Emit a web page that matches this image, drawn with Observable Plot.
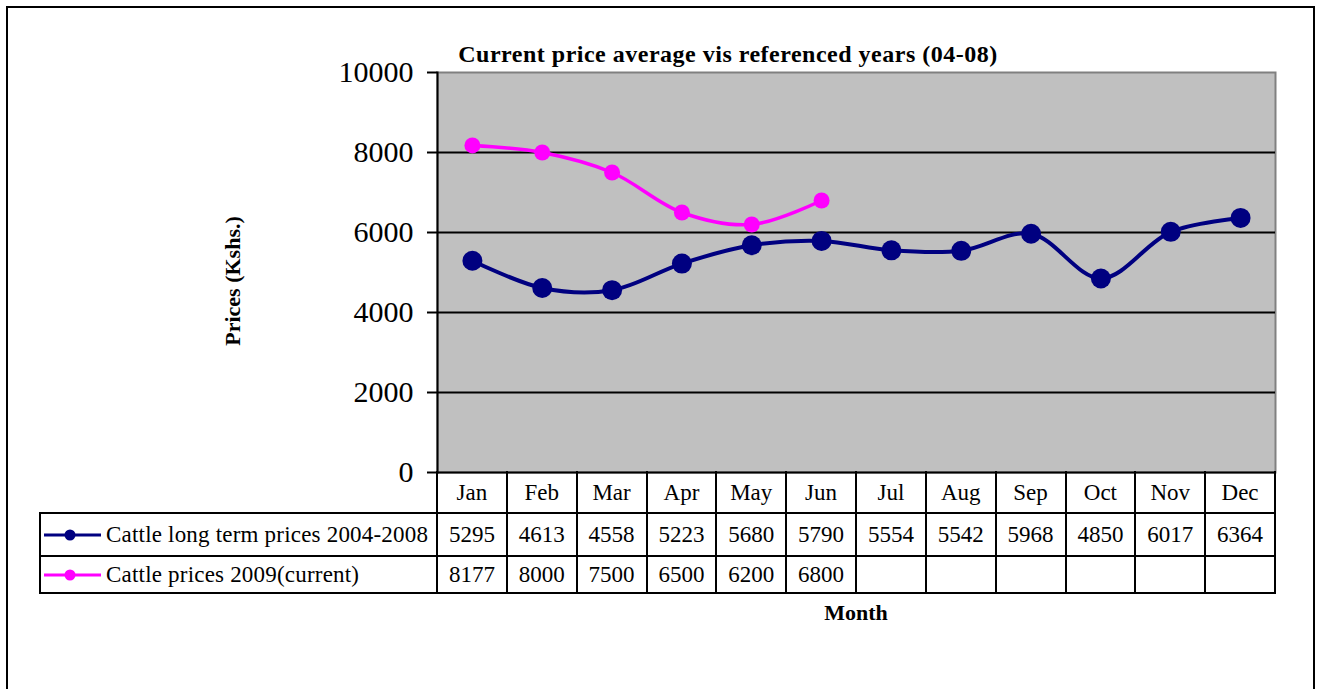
<!DOCTYPE html>
<html><head><meta charset="utf-8">
<script src="https://cdn.jsdelivr.net/npm/d3@7"></script>
<script src="https://cdn.jsdelivr.net/npm/@observablehq/plot@0.6"></script>
<style>
html,body{margin:0;padding:0;background:#fff;overflow:hidden}
#root{position:relative;width:1320px;height:689px;overflow:hidden;font-family:"Liberation Serif","Times New Roman",serif;color:#000}
.abs{position:absolute}
.cell{position:absolute;display:flex;align-items:center;justify-content:center;white-space:nowrap;font-size:23px}
</style></head><body><div id="root"></div>
<script>
const months = ["Jan","Feb","Mar","Apr","May","Jun","Jul","Aug","Sep","Oct","Nov","Dec"];
const longTermPrices = [5295,4613,4558,5223,5680,5790,5554,5542,5968,4850,6017,6364];
const currentPrices = [8177,8000,7500,6500,6200,6800];
const seriesNames = ["Cattle long term prices 2004-2008","Cattle prices 2009(current)"];
const seriesColors = ["#000080","#FF00FF"];
const yTicks = [0,2000,4000,6000,8000,10000];
const titleText = "Current price average vis referenced years (04-08)";
const yLabelText = "Prices (Kshs.)";
const xLabelText = "Month";

const longData = months.map((m,i)=>({month:m, price:longTermPrices[i]}));
const curData = currentPrices.map((p,i)=>({month:months[i], price:p}));

const root = d3.select("#root");

// outer border
root.append("div").attr("class","abs")
  .style("left","6px").style("top","6px").style("width","1305px").style("height","700px")
  .style("border","2px solid #000");

const chart = Plot.plot({
  width:1320, height:689,
  marginLeft:437, marginRight:45, marginTop:72, marginBottom:217,
  style:{fontFamily:'"Liberation Serif","Times New Roman",serif', background:"transparent", overflow:"visible", color:"#000"},
  x:{type:"point", domain:months, padding:0.5, round:false, axis:null},
  y:{domain:[0,10000], axis:null},
  marks:[
    Plot.frame({fill:"#c0c0c0", stroke:"#808080", strokeWidth:2}),
    Plot.ruleY(yTicks.filter(d=>d<10000), {stroke:"#000", strokeWidth:2}),
    Plot.axisY({ticks:yTicks, tickSize:10, tickPadding:14, fontSize:30, tickFormat:d=>String(d), label:null, strokeWidth:2}),
    Plot.frame({anchor:"left", stroke:"#000", strokeWidth:2}),
    Plot.line(longData,{x:"month", y:"price", stroke:seriesColors[0], strokeWidth:4, curve:"catmull-rom"}),
    Plot.dot(longData,{x:"month", y:"price", r:10, fill:seriesColors[0]}),
    Plot.line(curData,{x:"month", y:"price", stroke:seriesColors[1], strokeWidth:3.5, curve:"catmull-rom"}),
    Plot.dot(curData,{x:"month", y:"price", r:8, fill:seriesColors[1]})
  ]
});
chart.style.position = "absolute";
chart.style.left = "0px";
chart.style.top = "0px";
root.node().appendChild(chart);

// data table built from the x / y scales
const xs = chart.scale("x"), ys = chart.scale("y");
const step = xs.apply(months[1]) - xs.apply(months[0]);
const colLeft = xs.apply(months[0]) - step/2;
const colRight = colLeft + step*months.length;
const tableLeft = 40;
const yTop = ys.apply(0);
const rowBounds = [yTop, yTop+41, yTop+84, yTop+121];

function hLine(x1,x2,y){root.append("div").attr("class","abs").style("left",(x1-1)+"px").style("top",(y-1)+"px").style("width",(x2-x1+2)+"px").style("height","2px").style("background","#000");}
function vLine(x,y1,y2){root.append("div").attr("class","abs").style("left",(x-1)+"px").style("top",(y1-1)+"px").style("width","2px").style("height",(y2-y1+2)+"px").style("background","#000");}
function cell(x,y,w,h,txt){root.append("div").attr("class","cell").style("left",x+"px").style("top",y+"px").style("width",w+"px").style("height",h+"px").text(txt);}

for (let k=0;k<=months.length;k++) vLine(colLeft+k*step, rowBounds[0], rowBounds[3]);
vLine(tableLeft, rowBounds[1], rowBounds[3]);
hLine(tableLeft, colRight, rowBounds[1]);
hLine(tableLeft, colRight, rowBounds[2]);
hLine(tableLeft, colRight, rowBounds[3]);

months.forEach((m,i)=>cell(colLeft+i*step, rowBounds[0], step, rowBounds[1]-rowBounds[0], m));
longTermPrices.forEach((v,i)=>cell(colLeft+i*step, rowBounds[1], step, rowBounds[2]-rowBounds[1], String(v)));
currentPrices.forEach((v,i)=>cell(colLeft+i*step, rowBounds[2], step, rowBounds[3]-rowBounds[2], String(v)));

// legend cells
[0,1].forEach(s=>{
  const y0 = rowBounds[s+1], y1 = rowBounds[s+2], cy = (y0+y1)/2;
  const sw = root.append("svg").attr("class","abs").style("left",(tableLeft+3)+"px").style("top",(cy-8)+"px").attr("width",60).attr("height",16);
  sw.append("line").attr("x1",1).attr("x2",58).attr("y1",8).attr("y2",8).attr("stroke",seriesColors[s]).attr("stroke-width",3);
  sw.append("circle").attr("cx",27).attr("cy",8).attr("r",5.5).attr("fill",seriesColors[s]);
  root.append("div").attr("class","cell").style("justify-content","flex-start")
    .style("left",(tableLeft+66)+"px").style("top",y0+"px").style("height",(y1-y0)+"px")
    .style("letter-spacing","0.2px")
    .text(seriesNames[s]);
});

// titles
root.append("div").attr("class","abs").style("left","728px").style("top","54px")
  .style("transform","translate(-50%,-50%)").style("white-space","nowrap")
  .style("font-weight","bold").style("font-size","24px").style("letter-spacing","0.5px")
  .text(titleText);
root.append("div").attr("class","abs").style("left","233px").style("top","281px")
  .style("transform","translate(-50%,-50%) rotate(-90deg)").style("white-space","nowrap")
  .style("font-weight","bold").style("font-size","22px")
  .text(yLabelText);
root.append("div").attr("class","abs").style("left",((colLeft+colRight)/2)+"px").style("top","613px")
  .style("transform","translate(-50%,-50%)").style("white-space","nowrap")
  .style("font-weight","bold").style("font-size","22px")
  .text(xLabelText);
</script></body></html>
